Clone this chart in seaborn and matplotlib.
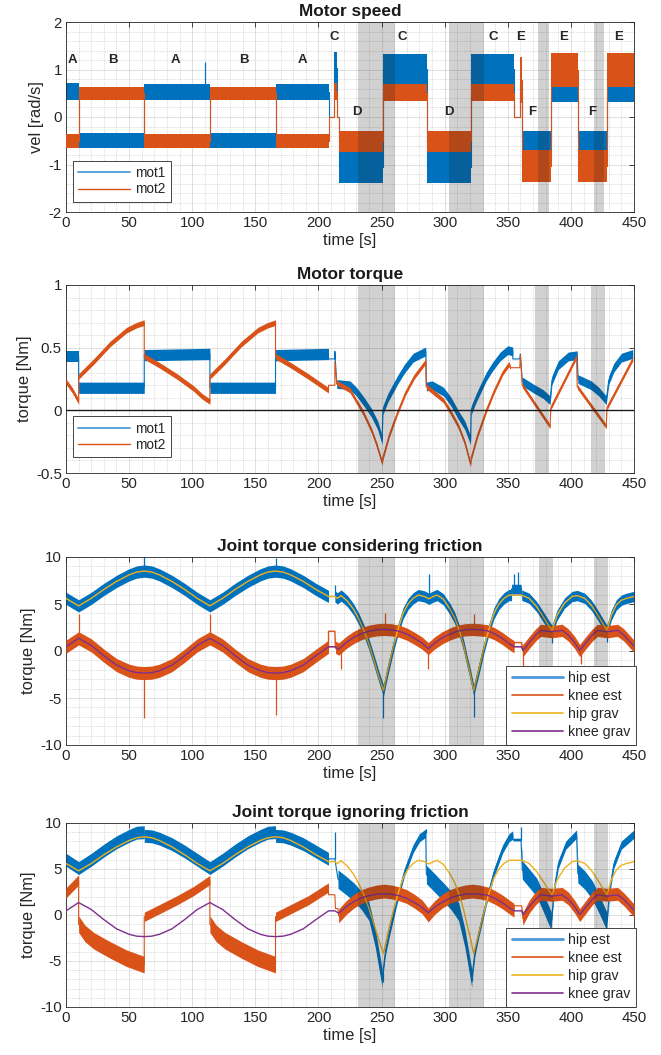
import numpy as np
import matplotlib
matplotlib.use("Agg")
import matplotlib.pyplot as plt
import seaborn as sns
from matplotlib.lines import Line2D
from matplotlib.ticker import MultipleLocator, FuncFormatter

BLUE = (0, 0.447, 0.741)
ORANGE = (0.85, 0.325, 0.098)
YELLOW = (0.929, 0.694, 0.125)
PURPLE = (0.494, 0.184, 0.556)
DARK = (0.15, 0.15, 0.15)

# ---------------- Panel 1: motor speed (piecewise segments, noise band lo/hi) ----------------
P1_EDGES = [0, 10, 62, 114, 166, 208, 212.5, 214.5, 216, 251, 286, 321, 355, 360, 361.5, 384, 406, 428.5, 450]
P1_MOT1_LO = [0.35, -0.66, 0.35, -0.66, 0.35, 0, 0.70, 0, -1.39, 0.70, -1.39, 0.70, 0, 0.30, -0.70, 0.31, -0.70, 0.31]
P1_MOT1_HI = [0.72, -0.33, 0.70, -0.33, 0.70, 0, 1.37, 0, -0.72, 1.32, -0.72, 1.32, 0, 0.60, -0.30, 0.67, -0.30, 0.67]
P1_MOT2_LO = [-0.66, 0.36, -0.66, 0.36, -0.66, 0, 0.35, 0, -0.73, 0.33, -0.73, 0.33, 0, 0.30, -1.36, 0.64, -1.36, 0.64]
P1_MOT2_HI = [-0.35, 0.64, -0.36, 0.64, -0.36, 0, 0.72, 0, -0.30, 0.70, -0.30, 0.70, 0, 1.27, -0.69, 1.34, -0.69, 1.34]
P1_MOT1_SPIKES = [(110, 1.16)]
P1_LETTERS = ['A', 'B', 'A', 'B', 'A', 'C', 'D', 'C', 'D', 'C', 'E', 'F', 'E', 'F', 'E']
P1_LETTER_T = [5, 37, 87, 141, 187, 212.5, 230.5, 266, 303.5, 338.5, 360.5, 369.5, 394, 417, 437.5]
P1_LETTER_Y = [1.21, 1.21, 1.21, 1.21, 1.21, 1.69, 0.1, 1.69, 0.1, 1.69, 1.69, 0.1, 1.69, 0.1, 1.69]
P1_GRAY = [(231.5, 260.5), (303.5, 331.5), (374, 382.5), (418, 426)]

# ---------------- Panel 2: motor torque ----------------
P2_MOT1 = [(0, 0.43), (10, 0.43), (10, 0.18), (62, 0.18), (62, 0.44), (114, 0.45), (114, 0.18), (166, 0.18),
           (166, 0.44), (208, 0.45), (208, 0.41), (213, 0.41), (213, 0.47), (214.5, 0.21), (225, 0.2), (230, 0.15),
           (236, 0.07), (242, -0.02), (247, -0.12), (250.5, -0.24), (251, 0.0), (255, 0.1), (262.5, 0.24),
           (268, 0.33), (275, 0.42), (285, 0.47), (285.5, 0.19), (290, 0.2), (299, 0.15), (305, 0.07),
           (311, -0.04), (316, -0.12), (320.5, -0.24), (321, 0.0), (325, 0.1), (333, 0.27), (338, 0.35),
           (344, 0.43), (350, 0.48), (354, 0.47), (354, 0.41), (359.5, 0.41), (360, 0.45), (361.5, 0.23),
           (371, 0.17), (378, 0.13), (383.5, 0.08), (385, 0.24), (390, 0.36), (398, 0.43), (405, 0.44),
           (405.5, 0.25), (416, 0.2), (422, 0.15), (428, 0.08), (430, 0.24), (434, 0.34), (440, 0.42), (449, 0.45)]
P2_MOT2 = [(0, 0.23), (5, 0.16), (10, 0.07), (10, 0.27), (16, 0.33), (22, 0.39), (35, 0.53), (48, 0.64),
           (56, 0.68), (62, 0.70), (62, 0.43), (74, 0.36), (88, 0.27), (101, 0.175), (108, 0.11), (114, 0.07),
           (114, 0.27), (120, 0.33), (126, 0.39), (139, 0.53), (152, 0.64), (160, 0.68), (166, 0.70), (166, 0.43),
           (178, 0.36), (192, 0.27), (205, 0.18), (208, 0.16), (208, 0.2), (213, 0.2), (213, 0.39), (214.5, 0.22),
           (225, 0.16), (235.5, -0.02), (242, -0.16), (246, -0.27), (250.5, -0.42), (251, -0.38), (256, -0.2),
           (262.5, -0.02), (269, 0.14), (276, 0.27), (285, 0.39), (285.5, 0.19), (299, 0.08), (305, -0.02),
           (311, -0.13), (316, -0.26), (320.5, -0.43), (321, -0.38), (326, -0.2), (333, 0.0), (339, 0.15),
           (346, 0.3), (351, 0.37), (352, 0.34), (359.5, 0.34), (360, 0.44), (361.5, 0.2), (383.5, -0.13),
           (384, 0.02), (404.5, 0.43), (405, 0.19), (428, -0.13), (428.5, 0.02), (449, 0.41)]
P2_MOT1_HW = [(0, 0.045), (208, 0.0), (214.5, 0.035), (354, 0.0), (361.5, 0.035)]
P2_MOT2_HW = [(0, 0.022), (208, 0.0), (214.5, 0.02), (352, 0.0), (361.5, 0.018)]
P2_GRAY = [(231.5, 261), (302.5, 331), (371.5, 382.5), (416, 427)]

# ---------------- Gravity model (panels 3 and 4) ----------------
HIP_GRAV = [(0, 5.6), (10, 4.8), (20, 5.6), (30, 6.55), (40, 7.4), (50, 8.1), (56, 8.4), (62, 8.5), (68, 8.4),
            (74, 8.1), (84, 7.4), (94, 6.55), (104, 5.6), (114, 4.8), (124, 5.6), (134, 6.55), (144, 7.4),
            (154, 8.1), (160, 8.4), (166, 8.5), (172, 8.4), (178, 8.1), (188, 7.4), (198, 6.55), (208, 5.8),
            (213, 5.8), (215, 5.6), (218, 5.9), (223, 5.3), (228, 4.4), (232, 3.4), (236, 2.2), (240, 0.7),
            (244, -1.0), (248, -2.8), (251.5, -4.2), (255, -2.0), (259, 0.3), (263, 2.3), (267, 4.0), (271, 5.0),
            (275, 5.6), (279, 5.95), (284, 5.8), (287.5, 5.55), (291, 5.8), (294, 5.95), (299, 5.5), (304, 4.5),
            (308, 3.5), (312, 2.0), (315, 0.6), (318, -1.2), (320.5, -2.6), (323, -4.2), (327, -2.0), (331, 0.3),
            (335, 2.3), (339, 4.0), (343, 5.0), (347, 5.6), (351, 5.95), (361, 5.95), (367, 5.6), (373, 4.7),
            (379, 3.45), (382, 2.8), (385, 2.2), (389, 3.8), (395, 5.1), (401, 5.8), (405, 5.9), (411, 5.6),
            (416, 4.9), (420, 4.1), (424, 3.2), (428.5, 2.2), (432, 3.8), (436, 4.9), (440, 5.4), (444, 5.6),
            (450, 5.8)]
KNEE_GRAV = [(0, 0.45), (10, 1.35), (20, 0.6), (30, -0.5), (40, -1.5), (50, -2.1), (56, -2.3), (62, -2.35),
             (68, -2.3), (74, -2.1), (84, -1.5), (94, -0.5), (104, 0.6), (114, 1.35), (124, 0.6), (134, -0.5),
             (144, -1.5), (154, -2.1), (160, -2.3), (166, -2.35), (172, -2.3), (178, -2.1), (188, -1.5),
             (198, -0.5), (208, 0.45), (213, 0.45), (216, 0.2), (222, 0.9), (228, 1.45), (234, 1.85), (240, 2.1),
             (246, 2.25), (252, 2.3), (258, 2.25), (264, 2.1), (270, 1.8), (276, 1.35), (282, 0.85), (287, 0.25),
             (292, 0.85), (298, 1.4), (304, 1.8), (310, 2.1), (316, 2.25), (322, 2.3), (328, 2.25), (334, 2.15),
             (340, 1.8), (346, 1.3), (351, 0.8), (355, 0.45), (361, 0.45), (362, 0.05), (367, 0.9), (372, 1.7),
             (376, 2.2), (385, 2.05), (393, 2.2), (398, 1.7), (403, 0.9), (407, 0.05), (412, 0.9), (417, 1.7),
             (421, 2.2), (429, 2.05), (437, 2.2), (442, 1.7), (446, 1.1), (450, 0.5)]
P34_GRAY = [(231.5, 260.5), (303.5, 331.5), (375, 385.5), (418.5, 429.5)]

# ---------------- Panel 3: with friction (estimate follows gravity model) ----------------
P3_HIP_HW = [(0, 0.65), (208, 0.0), (213, 0.6), (353, 0.0), (361, 0.55)]
P3_KNEE_HW = [(0, 0.7), (208, 0.0), (213.5, 0.65), (355, 0.0), (361.5, 0.65)]
P3_HIP_PATCH = [(353, 6.0), (353, 6.6), (360.5, 6.6), (361, 5.95)]
P3_KNEE_STOP1 = [(208, 0.45), (208, 2.1), (213, 2.1), (213.5, 0.3)]
P3_KNEE_STOP2 = [(355, 0.45), (355, 0.9), (361, 0.9), (361.5, 0.2)]
P3_HIP_SPIKES = [(62, 10.1), (166, 9.9), (213, 7.0), (251.5, -7.1), (287.5, 8.2), (323, -7.0),
                 (355, 8.2), (358, 8.4), (385, 0.9), (428.5, 1.0)]
P3_KNEE_SPIKES = [(10, 3.9), (62, -7.1), (114, 3.9), (166, -6.8), (218, -1.9), (253, 4.0), (287, -1.9),
                  (323, 3.9), (362, -2.1), (408, -1.4)]

# ---------------- Panel 4: ignoring friction ----------------
P4_HIP_EST = [(0, 6.0), (10, 5.1), (20, 6.0), (30, 7.0), (40, 7.9), (50, 8.6), (56, 8.95), (62, 9.0), (62, 8.6),
              (68, 8.55), (74, 8.3), (84, 7.7), (94, 6.9), (104, 6.0), (114, 5.1), (124, 6.0), (134, 7.0),
              (144, 7.9), (154, 8.6), (160, 8.95), (166, 9.0), (166, 8.6), (172, 8.55), (178, 8.3), (188, 7.7),
              (198, 6.9), (208, 6.1), (213, 6.1), (215.5, 3.9), (222, 3.2), (228, 2.5), (234, 1.6), (240, 0.4),
              (245, -2.5), (250.5, -6.9), (253, -4.0), (256, -2.0), (262, 1.5), (268, 4.6), (275, 7.2), (280, 8.4),
              (285, 8.9), (285.5, 4.4), (292, 3.5), (299, 2.5), (305, 1.6), (311, 0.4), (316, -2.5), (321.5, -6.9),
              (324, -4.0), (327, -2.0), (333, 1.5), (339, 4.6), (346, 7.2), (351, 8.4), (354, 8.7), (354, 8.2),
              (360.5, 8.2), (361.5, 4.9), (367, 4.0), (373, 3.0), (379, 1.1), (384.5, -0.7), (387, 3.0), (390, 5.5),
              (396, 7.6), (404.5, 8.8), (405.5, 4.5), (411, 3.8), (417, 2.7), (423, 1.0), (428.5, -0.7), (431, 3.0),
              (434, 5.5), (440, 7.6), (450, 8.8)]
P4_KNEE_EST = [(0, 2.4), (10, 3.8), (10, -1.0), (15, -2.0), (22, -2.8), (35, -3.8), (48, -4.7), (62, -5.4),
               (62, -0.2), (75, 0.7), (88, 1.6), (101, 2.6), (114, 3.8), (114, -1.0), (119, -2.0), (126, -2.8),
               (139, -3.8), (152, -4.7), (166, -5.4), (166, -0.2), (179, 0.7), (192, 1.6), (208, 3.0), (208, 2.2),
               (213, 2.2), (213.5, 0.7), (215.5, 0.7), (216, -0.1), (222, 0.8), (228, 1.5), (234, 2.0), (240, 2.3),
               (246, 2.5), (252, 2.6), (258, 2.5), (264, 2.3), (270, 2.0), (276, 1.5), (282, 0.9), (287, 0.0),
               (292, 0.8), (298, 1.5), (304, 2.0), (310, 2.3), (316, 2.5), (322, 2.6), (328, 2.5), (334, 2.3),
               (340, 1.9), (346, 1.4), (351, 0.9), (355, 0.5), (355, 1.0), (361, 1.0), (362, -0.4), (367, 0.9),
               (372, 1.8), (376, 2.3), (385, 2.2), (393, 2.3), (398, 1.8), (403, 0.9), (407, 0.0), (412, 0.9),
               (417, 1.8), (421, 2.3), (429, 2.2), (437, 2.3), (442, 1.7), (446, 1.1), (450, 0.5)]
P4_HIP_HW = [(0, 0.7), (208, 0.0), (215.5, 1.0), (250.5, 0.45), (285.5, 1.0), (321.5, 0.45), (354, 0.15),
             (361, 1.0), (384.5, 0.45), (405, 1.0), (428.5, 0.45)]
P4_KNEE_HW = [(0, 0.55), (10, 0.9), (62, 0.5), (114, 0.9), (166, 0.5), (208, 0.0), (216, 0.75), (355, 0.0),
              (361.5, 0.7)]
P4_HIP_SPIKES = [(213, 9.0), (251, -7.3), (322, -7.2), (360.5, 9.6), (285, 9.4)]

# ---------------- styling ----------------
sns.set_theme(style="white")
plt.rcParams['font.family'] = ['Liberation Sans', 'DejaVu Sans']
plt.rcParams['axes.unicode_minus'] = False


def pts(p):
    a = np.asarray(p, float)
    return a[:, 0], a[:, 1]


def step_hw(hw_list, t):
    starts = np.array([s for s, _ in hw_list])
    vals = np.array([v for _, v in hw_list])
    idx = np.searchsorted(starts, t, side='right') - 1
    return vals[np.clip(idx, 0, None)]


def band_series(ax, points, hw_list, color, z, lw=0.8):
    t, v = pts(points)
    breaks = np.where(np.diff(t) <= 1e-9)[0]
    for idx in np.split(np.arange(len(t)), breaks + 1):
        if len(idx) < 2:
            continue
        t0, t1 = t[idx[0]], t[idx[-1]]
        tt = np.linspace(t0, t1, max(int((t1 - t0) * 10), 2))
        vv = np.interp(tt, t[idx], v[idx])
        hw = step_hw(hw_list, tt)
        ax.fill_between(tt, vv - hw, vv + hw, color=color, lw=0, zorder=z)
    sns.lineplot(x=t, y=v, ax=ax, color=color, lw=lw, estimator=None, sort=False, zorder=z)


def spikes(ax, points, spk, color, z):
    t, v = pts(points)
    st, sv = pts(spk)
    base = np.interp(st, t, v)
    ax.vlines(st, base, sv, color=color, lw=0.9, zorder=z)


def style(ax, ylim, ymaj, ymin, ylabel, title, gray):
    ax.set_xlim(0, 450)
    ax.set_ylim(*ylim)
    ax.xaxis.set_major_locator(MultipleLocator(50))
    ax.xaxis.set_minor_locator(MultipleLocator(10))
    ax.yaxis.set_major_locator(MultipleLocator(ymaj))
    ax.yaxis.set_minor_locator(MultipleLocator(ymin))
    ax.yaxis.set_major_formatter(FuncFormatter(lambda val, p: f'{val:g}'))
    ax.grid(True, which='major', color=DARK, alpha=0.17, lw=0.6, ls='-')
    ax.grid(True, which='minor', color=DARK, alpha=0.3, lw=0.5, ls=':')
    ax.set_axisbelow(True)
    ax.tick_params(which='major', direction='in', length=3.5, width=0.6, top=True, right=True,
                   labelsize=10.8, colors=DARK, pad=3)
    ax.tick_params(which='minor', length=0)
    for s in ax.spines.values():
        s.set_color(DARK)
        s.set_linewidth(0.6)
    ax.set_xlabel('time [s]', fontsize=11.9, color=DARK, labelpad=2)
    ax.set_ylabel(ylabel, fontsize=11.9, color=DARK, labelpad=3)
    ax.set_title(title, fontweight='bold', fontsize=12.4, pad=4, color='k')
    for g0, g1 in gray:
        ax.axvspan(g0, g1, color='k', alpha=0.2, lw=0, zorder=6)


fig = plt.figure(figsize=(6.61, 10.55), dpi=100)
W, H = 661, 1055
L, AW = 66 / W, 568 / W
ax1 = fig.add_axes([L, 1 - 212 / H, AW, 190 / H])
ax2 = fig.add_axes([L, 1 - 473 / H, AW, 188 / H])
ax3 = fig.add_axes([L, 1 - 745 / H, AW, 188 / H])
ax4 = fig.add_axes([L, 1 - 1007 / H, AW, 184 / H])

# ----- Panel 1 -----
edges = np.array(P1_EDGES)
for lo_l, hi_l, color, z in [(P1_MOT1_LO, P1_MOT1_HI, BLUE, 2), (P1_MOT2_LO, P1_MOT2_HI, ORANGE, 3)]:
    lo, hi = np.array(lo_l), np.array(hi_l)
    mid = (lo + hi) / 2
    ct = np.repeat(edges, 2)[1:-1]
    cv = np.repeat(mid, 2)
    sns.lineplot(x=ct, y=cv, ax=ax1, color=color, lw=0.8, estimator=None, sort=False, zorder=z)
    for i in range(len(lo)):
        if hi[i] > lo[i]:
            ax1.fill_between(edges[i:i + 2], lo[i], hi[i], color=color, lw=0, zorder=z)
st, sv = pts(P1_MOT1_SPIKES)
ax1.vlines(st, 0.5, sv, color=BLUE, lw=0.9, zorder=2)
for lab, lt, ly in zip(P1_LETTERS, P1_LETTER_T, P1_LETTER_Y):
    ax1.text(lt, ly, lab, fontsize=9.5, fontweight='bold', ha='center', va='center', color=DARK, zorder=8)
style(ax1, (-2, 2), 1, 0.2, 'vel [rad/s]', 'Motor speed', P1_GRAY)

# ----- Panel 2 -----
band_series(ax2, P2_MOT1, P2_MOT1_HW, BLUE, 2)
band_series(ax2, P2_MOT2, P2_MOT2_HW, ORANGE, 3)
ax2.axhline(0, color='k', lw=1.0, zorder=4)
style(ax2, (-0.5, 1), 0.5, 0.1, 'torque [Nm]', 'Motor torque', P2_GRAY)

# ----- Panel 3 -----
band_series(ax3, HIP_GRAV, P3_HIP_HW, BLUE, 2)
band_series(ax3, P3_HIP_PATCH, [(0, 0.5)], BLUE, 2)
spikes(ax3, HIP_GRAV, P3_HIP_SPIKES, BLUE, 2)
band_series(ax3, KNEE_GRAV, P3_KNEE_HW, ORANGE, 3)
sns.lineplot(x=pts(P3_KNEE_STOP1)[0], y=pts(P3_KNEE_STOP1)[1], ax=ax3, color=ORANGE, lw=1.0,
             estimator=None, sort=False, zorder=3)
sns.lineplot(x=pts(P3_KNEE_STOP2)[0], y=pts(P3_KNEE_STOP2)[1], ax=ax3, color=ORANGE, lw=1.0,
             estimator=None, sort=False, zorder=3)
spikes(ax3, KNEE_GRAV, P3_KNEE_SPIKES, ORANGE, 3)
for ax in (ax3, ax4):
    sns.lineplot(x=pts(HIP_GRAV)[0], y=pts(HIP_GRAV)[1], ax=ax, color=YELLOW, lw=1.0,
                 estimator=None, sort=False, zorder=4)
    sns.lineplot(x=pts(KNEE_GRAV)[0], y=pts(KNEE_GRAV)[1], ax=ax, color=PURPLE, lw=1.0,
                 estimator=None, sort=False, zorder=4)
style(ax3, (-10, 10), 5, 1, 'torque [Nm]', 'Joint torque considering friction', P34_GRAY)

# ----- Panel 4 -----
band_series(ax4, P4_HIP_EST, P4_HIP_HW, BLUE, 2)
spikes(ax4, P4_HIP_EST, P4_HIP_SPIKES, BLUE, 2)
band_series(ax4, P4_KNEE_EST, P4_KNEE_HW, ORANGE, 3)
style(ax4, (-10, 10), 5, 1, 'torque [Nm]', 'Joint torque ignoring friction', P34_GRAY)

# ----- legends -----
leg_kw = dict(frameon=True, fancybox=False, framealpha=1, edgecolor=DARK, borderaxespad=0,
              handletextpad=0.4, borderpad=0.4)
h12 = [Line2D([], [], color=(0.3, 0.6, 0.85), lw=1.3), Line2D([], [], color=ORANGE, lw=1.0)]
lg = ax1.legend(h12, ['mot1', 'mot2'], loc='lower left', bbox_to_anchor=(0.012, 0.054), fontsize=9.8,
                handlelength=3.8, labelspacing=0.15, **leg_kw)
lg.set_zorder(10); lg.get_frame().set_linewidth(0.6)
lg = ax2.legend(h12, ['mot1', 'mot2'], loc='lower left', bbox_to_anchor=(0.012, 0.085), fontsize=9.8,
                handlelength=3.8, labelspacing=0.15, **leg_kw)
lg.set_zorder(10); lg.get_frame().set_linewidth(0.6)
h34 = [Line2D([], [], color=(0.3, 0.6, 0.85), lw=2.0), Line2D([], [], color=ORANGE, lw=1.2),
       Line2D([], [], color=YELLOW, lw=1.2), Line2D([], [], color=PURPLE, lw=1.2)]
for ax in (ax3, ax4):
    lg = ax.legend(h34, ['hip est', 'knee est', 'hip grav', 'knee grav'], loc='lower right',
                   bbox_to_anchor=(1.004, 0.0), fontsize=10.2, handlelength=3.6, labelspacing=0.28, **leg_kw)
    lg.set_zorder(10); lg.get_frame().set_linewidth(0.6)

fig.savefig('out.png', dpi=100, facecolor='white')
